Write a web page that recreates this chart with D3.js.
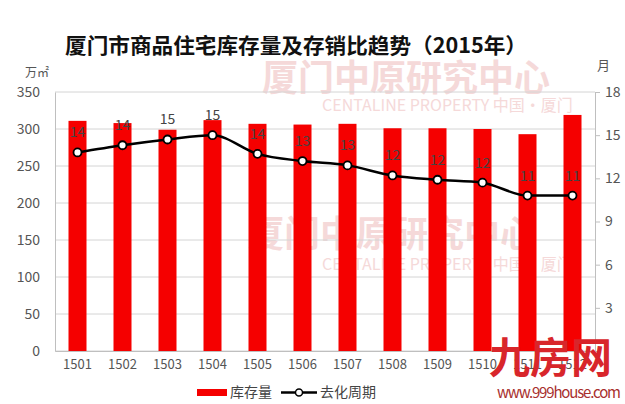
<!DOCTYPE html>
<html><head><meta charset="utf-8">
<script src="https://cdn.jsdelivr.net/npm/d3@7/dist/d3.min.js"></script>
<style>
body{margin:0;background:#fff;}
text{font-family:"Noto Sans CJK SC","Noto Sans",sans-serif;}
</style></head>
<body><svg id="chart" width="625" height="404"></svg>
<script>
const categories = ["1501","1502","1503","1504","1505","1506","1507","1508","1509","1510","1511","1512"];
const inventory = [311, 308, 299, 312, 307, 306, 307, 301, 301, 300, 293, 319];
const cycle = [13.8, 14.3, 14.7, 15.0, 13.7, 13.2, 12.9, 12.2, 11.9, 11.7, 10.8, 10.8];
const cycleLabels = ["14","14","15","15","14","13","13","12","12","12","11","11"];
const leftTicks = [0,50,100,150,200,250,300,350];
const rightTicks = [3,6,9,12,15,18];
const title = "厦门市商品住宅库存量及存销比趋势（2015年）";
const legendNames = ["库存量","去化周期"];

const svg = d3.select("#chart");
const L = 55, R = 595, T = 92, B = 351;

// faint background watermarks
const wm = svg.append("g").attr("fill","#f2c9c9").attr("opacity",0.7);
wm.append("text").attr("x",262).attr("y",91).attr("font-size",36).attr("font-weight","bold").text("厦门中原研究中心");
wm.append("text").attr("x",248).attr("y",247).attr("font-size",36).attr("font-weight","bold").text("厦门中原研究中心");
wm.append("text").attr("x",322).attr("y",111).attr("font-size",16).text("CENTALINE PROPERTY   中国·厦门");
wm.append("text").attr("x",322).attr("y",270).attr("font-size",16).text("CENTALINE PROPERTY   中国·厦门");

const x = d3.scaleBand().domain(categories).range([L,R]).paddingInner(0.6).paddingOuter(0.3);
const yL = d3.scaleLinear().domain([0,350]).range([B,T]);
const yR = d3.scaleLinear().domain([0,18]).range([B,T]);

// gridlines
svg.append("g").selectAll("line").data(leftTicks).join("line")
  .attr("x1",L).attr("x2",R).attr("y1",d=>yL(d)).attr("y2",d=>yL(d))
  .attr("stroke","#d4d4d4").attr("stroke-width",1);

// axes
const gl = svg.append("g").attr("transform",`translate(${L},0)`)
  .call(d3.axisLeft(yL).tickValues(leftTicks).tickSize(0).tickPadding(15));
gl.select(".domain").attr("stroke","#bfbfbf");
gl.selectAll("text").attr("font-size",14).attr("fill","#555").attr("font-family","Noto Sans, sans-serif");

const gr = svg.append("g").attr("transform",`translate(${R},0)`)
  .call(d3.axisRight(yR).tickValues(rightTicks).tickSize(5).tickPadding(5));
gr.select(".domain").attr("stroke","#bfbfbf");
gr.selectAll("line").attr("stroke","#bfbfbf");
gr.selectAll("text").attr("font-size",14).attr("fill","#555").attr("font-family","Noto Sans, sans-serif");

const gx = svg.append("g").attr("transform",`translate(0,${B})`)
  .call(d3.axisBottom(x).tickSize(0).tickPadding(9));
gx.select(".domain").attr("stroke","#bfbfbf");
gx.selectAll("text").attr("font-size",13).attr("fill","#555").attr("font-family","Noto Sans, sans-serif");

// bars
svg.append("g").selectAll("rect").data(categories).join("rect")
  .attr("x",d=>x(d)).attr("width",x.bandwidth())
  .attr("y",(d,i)=>yL(inventory[i])).attr("height",(d,i)=>B-yL(inventory[i]))
  .attr("fill","#f50000");

// line
const cx = d=>x(d)+x.bandwidth()/2;
const line = d3.line().x((d,i)=>cx(categories[i])).y(d=>yR(d)).curve(d3.curveMonotoneX);
svg.append("path").datum(cycle).attr("d",line).attr("fill","none").attr("stroke","#000").attr("stroke-width",2.5);
svg.append("g").selectAll("circle").data(cycle).join("circle")
  .attr("cx",(d,i)=>cx(categories[i])).attr("cy",d=>yR(d)).attr("r",4)
  .attr("fill","#fff").attr("stroke","#000").attr("stroke-width",1.8);
svg.append("g").selectAll("text").data(cycle).join("text")
  .attr("x",(d,i)=>cx(categories[i])).attr("y",d=>yR(d)-15)
  .attr("text-anchor","middle").attr("font-size",14).attr("fill","#444")
  .attr("font-family","Noto Sans, sans-serif")
  .text((d,i)=>cycleLabels[i]);

// title and units
svg.append("text").attr("x",65).attr("y",53).attr("font-size",21).attr("font-weight","bold")
  .attr("fill","#111").attr("textLength",462).attr("lengthAdjust","spacingAndGlyphs").text(title);
svg.append("text").attr("x",25).attr("y",77).attr("font-size",12).attr("fill","#555").text("万㎡");
svg.append("text").attr("x",597).attr("y",70).attr("font-size",13).attr("fill","#555").text("月");

// legend
const lg = svg.append("g");
lg.append("rect").attr("x",197).attr("y",389).attr("width",30).attr("height",7).attr("fill","#f50000");
lg.append("text").attr("x",230).attr("y",397).attr("font-size",14).attr("fill","#444").text(legendNames[0]);
lg.append("line").attr("x1",281).attr("x2",317).attr("y1",392.5).attr("y2",392.5).attr("stroke","#000").attr("stroke-width",2.5);
lg.append("circle").attr("cx",299).attr("cy",392.5).attr("r",3.5).attr("fill","#fff").attr("stroke","#000").attr("stroke-width",1.5);
lg.append("text").attr("x",320).attr("y",397).attr("font-size",14).attr("fill","#444").text(legendNames[1]);

// site logo
svg.append("text").attr("x",489).attr("y",373).attr("font-size",42).attr("font-weight","bold")
  .attr("fill","#d8262b").attr("textLength",123).attr("lengthAdjust","spacingAndGlyphs").text("九房网");
svg.append("text").attr("x",497).attr("y",398).attr("font-size",15).attr("fill","#a8302e")
  .attr("font-family","Noto Sans, sans-serif").attr("textLength",124).text("www.999house.com");
</script></body></html>
